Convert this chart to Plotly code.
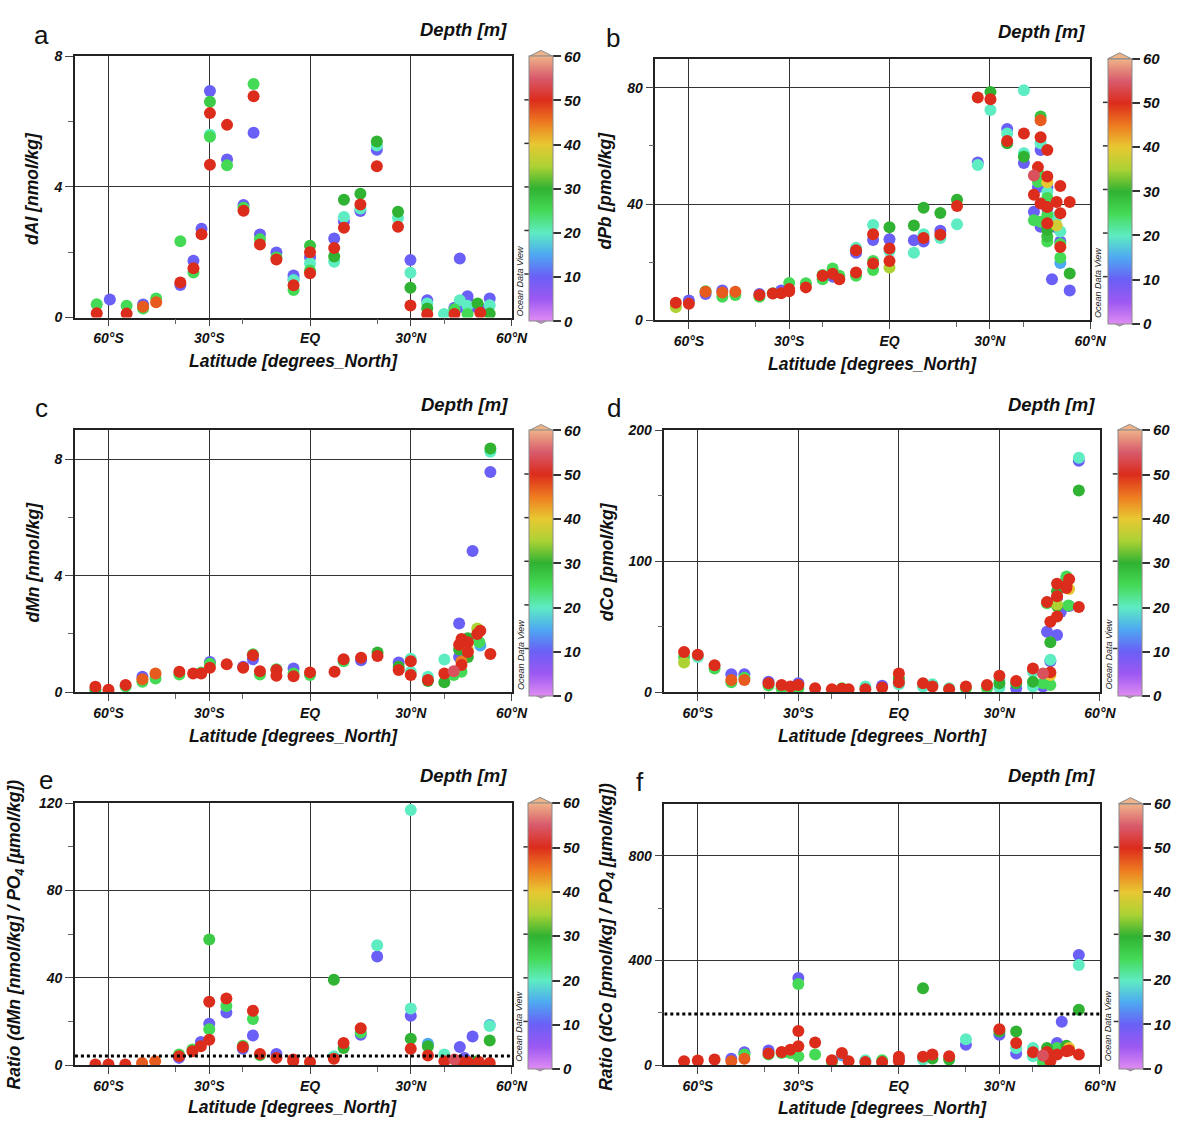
import numpy as np
import plotly.graph_objects as go

W, H = 1182, 1127

# ---------------- data ----------------
# Panel a: dAl [nmol/kg]
a_lat = [-63.5,-63.5,-59.6,-54.6,-54.6,-49.7,-49.7,-49.7,-45.8,-45.8,-38.6,-38.6,-38.6,-34.7,-34.7,-34.7,-32.3,-32.3,
         -29.8,-29.8,-29.8,-29.8,-29.8,-29.8,-24.7,-24.7,-24.7,-19.8,-19.8,-19.8,-16.8,-16.8,-16.8,-14.9,-14.9,-14.9,
         -10,-10,-10,-4.9,-4.9,-4.9,-4.9,-4.9,0,0,0,0,0,0,7.2,7.2,7.2,7.2,10.1,10.1,10.1,10.1,15,15,15,15,
         19.9,19.9,19.9,19.9,26.2,26.2,26.2,29.9,29.9,29.9,29.9,34.9,34.9,34.9,34.9,39.9,43,43,43,44.6,44.6,44.9,
         46.9,46.9,46.9,46.9,48.3,49.9,50.7,50.7,53.5,53.5,53.5]
a_val = [0.41,0.13,0.55,0.36,0.12,0.40,0.28,0.33,0.58,0.47,2.34,1.0,1.07,1.74,1.38,1.51,2.72,2.55,
         6.94,6.61,5.60,5.54,6.26,4.68,4.84,4.66,5.9,3.45,3.36,3.27,7.15,5.66,6.78,2.54,2.40,2.24,
         1.99,1.84,1.78,1.29,1.18,1.14,0.84,0.99,2.2,1.85,1.66,1.44,2.0,1.36,2.42,1.87,1.71,2.13,3.61,3.08,2.94,2.75,3.79,3.34,3.26,3.46,
         5.14,5.27,5.39,4.63,3.24,3.05,2.78,1.76,1.37,0.91,0.37,0.53,0.43,0.28,0.10,0.11,0.30,0.25,0.11,1.81,0.53,0.33,
         0.65,0.53,0.36,0.11,0.33,0.43,0.28,0.15,0.58,0.38,0.12]
a_depth = [25,50,10,25,50,10,25,47,25,47,25,10,50,10,25,50,10,50,
           10,27,20,25,50,50,10,25,50,10,25,50,25,10,50,10,25,50,
           10,25,50,10,12,20,25,50,28,10,20,25,50,50,10,30,20,50,30,20,10,50,30,20,10,50,
           10,20,30,50,30,20,50,10,20,30,50,10,20,30,50,20,10,25,50,10,20,10,
           10,10,20,25,10,30,10,50,10,20,30]

# Panel b: dPb [pmol/kg]
b_lat = [-63.9,-63.9,-60,-60,-55,-55,-55,-50,-50,-50,-46.1,-46.1,-38.9,-38.9,-38.9,-34.9,-34.9,-32.4,-32.4,
         -30,-30,-30,-25,-25,-20,-20,-20,-17,-17,-17,-15,-15,-10,-10,-10,-10,-10,
         -4.9,-4.9,-4.9,-4.9,-4.9,-4.9,0,0,0,0,0,0,7.3,7.3,7.3,10.2,10.2,10.2,10.2,15.2,15.2,15.2,15.2,
         20.2,20.2,20.2,26.4,26.4,26.4,30.2,30.2,30.2,35.2,35.2,35.2,35.2,40.2,40.2,40.2,40.2,40.2,
         43.2,43.2,43.2,43.2,44.4,44.4,44.4,44.4,45.2,45.2,45.2,45.2,45.2,45.2,45.2,45.2,
         47.2,47.2,47.2,47.2,47.2,47.2,47.2,47.2,47.2,47.2,47.2,47.2,47.2,47.2,48.6,
         50,50,50,50,51.1,51.1,51.1,51.1,51.1,51.1,51.1,51.1,53.9,53.9,53.9]
b_val = [6.0,4.5,6.8,5.7,10,9,9.8,10.2,8.1,9.5,9.8,8.7,9.0,8.1,8.7,9.3,9.2,10.2,9.3,
         12.8,10.7,10.0,12.7,11.3,15.6,14.1,15.3,17.8,15,16,15.3,14.1,24.9,24.1,23.2,16.4,15.3,
         32.8,29.6,27.6,20.4,19.5,17.3,32,27.9,24.7,23.8,20.4,18.1,32.6,27.5,23.2,38.7,29.6,28.3,27.1,36.9,30.8,29.4,28.3,
         41.5,39.3,33,76.7,54.3,53.4,78.6,76.1,72.4,65.8,64.3,61.7,60.9,79.2,64.3,57.5,56.3,54.1,
         49.8,43.2,37.3,34.4,52.7,50.9,47.7,45.8,70.1,68.8,63,60.9,58.6,40.2,33.9,32.2,
         58.6,49.5,47.5,45.8,44.1,42.1,41.3,39,38.5,36.2,33.4,31.1,28.8,27.1,14.1,
         40.7,35.6,32.6,31.9,46.2,36.8,30.5,27.1,26.2,25.2,21.5,19.7,40.7,16.1,10.2]
b_depth = [50,35,10,50,25,10,47,10,25,47,47,25,10,25,50,25,50,10,50,
           25,50,50,25,50,25,25,50,25,10,50,25,50,20,50,10,50,25,
           20,50,10,25,50,25,30,10,50,20,50,35,30,10,20,30,20,50,10,30,10,50,20,
           30,50,20,50,10,20,30,50,20,10,20,50,30,20,50,20,30,10,
           54,50,10,25,50,25,25,10,28,47,50,20,10,50,25,10,
           50,50,40,10,20,25,10,50,10,25,50,30,28,25,10,
           50,20,38,10,50,50,20,10,25,50,25,15,50,30,10]

# Panel c: dMn [nmol/kg]
c_lat = [-63.9,-63.9,-60,-54.9,-54.9,-49.9,-49.9,-49.9,-46,-46,-38.9,-38.9,-34.8,-32.4,-32.4,-29.8,-29.8,-29.8,
         -24.8,-19.9,-19.9,-17,-17,-17,-14.9,-14.9,-10,-10,-10,-4.9,-4.9,-4.9,0,0,7.3,10,10,15.2,15.2,
         20.1,20.1,26.4,26.4,26.4,30,30,30,30,35.1,35.1,35.1,40,40,40,42.8,42.8,44.4,44.4,44.4,44.4,
         45.1,45.1,45.1,45.1,47,47,47,47,47,48.4,49.8,49.8,50.7,50.4,50.7,53.7,53.7,53.7,53.7]
c_val = [0.19,0.08,0.08,0.25,0.19,0.53,0.44,0.36,0.64,0.47,0.70,0.61,0.64,0.64,0.68,1.04,0.98,0.84,
         0.96,0.87,0.84,1.30,1.27,1.13,0.72,0.61,0.79,0.76,0.56,0.81,0.64,0.55,0.68,0.59,0.70,1.06,1.13,1.18,1.10,
         1.36,1.24,1.02,0.87,0.76,1.15,1.06,0.70,0.59,0.53,0.42,0.38,1.12,0.64,0.34,0.72,0.59,2.36,1.63,1.47,1.21,
         1.83,0.93,0.70,1.05,1.85,1.72,1.47,1.38,1.21,4.85,2.19,2.00,2.11,1.72,1.60,8.38,8.27,7.57,1.31]
c_depth = [50,30,50,50,25,10,47,25,47,25,50,25,50,50,25,10,25,50,
           50,10,50,25,50,10,50,25,25,50,50,10,25,50,50,25,50,25,50,50,10,
           30,50,10,30,50,20,50,20,50,20,50,30,20,50,30,54,25,10,50,30,10,
           50,50,25,45,30,50,38,50,30,10,35,50,50,25,15,30,20,10,50]

# Panel d: dCo [pmol/kg]
d_lat = [-64.1,-64.1,-64.1,-60,-60,-55,-55,-50,-50,-50,-46.1,-46.1,-46.1,-38.9,-38.9,-38.9,-35,-35,-32.4,
         -30,-30,-30,-25,-20,-17,-17,-15,-10,-10,-5,-5,0,0,0,0,7.2,7.2,10,10,15,15,20,20,26.3,26.3,
         30,30,30,30,35,35,35,40,40,40,40,43,43,43,44.2,44.2,44.2,45.2,45.2,45.2,45.2,45.2,45.2,45.2,
         47.2,47.2,47.2,47.2,47.2,47.2,47.2,47.2,48.3,50,50,50,50,50.8,50.8,50.8,50.6,53.7,53.7,53.7,53.7]
d_val = [30.6,26.9,22.6,28.6,26.9,20.6,18.1,13.6,9.3,7.5,13.6,9.3,11,8,6.8,5,5.5,3,4.3,
         6.8,5.5,3,3,2.3,3,2.6,2.3,4.3,2.3,4.8,3.5,14.3,10.5,7.5,6,6.8,4.3,6,4.3,3,2.3,4.3,3,5.5,3,
         12.5,9.3,6.8,3.5,8.5,6.8,3,18.1,15.6,8,4.3,14.3,6.8,4.3,68.8,67.8,46.2,53.7,38.1,24.8,23.6,15.1,13,5.5,
         82.8,77,73.3,72,67,65.7,57.7,43.7,61.2,88.3,87,81.3,79.5,86.3,78.8,65.7,66.2,179,176.6,154,65]
d_depth = [50,25,35,50,20,50,25,10,47,25,10,47,25,10,50,25,50,25,50,
           10,50,25,50,50,25,50,50,20,50,10,50,50,30,50,20,50,20,20,50,20,50,50,25,50,25,
           50,20,30,20,50,30,10,50,20,30,20,54,25,10,50,25,10,50,30,20,10,50,40,25,
           50,30,50,10,35,30,50,10,10,25,20,50,50,50,40,10,25,20,10,30,50]

# Panel e: Ratio dMn / PO4
e_lat = [-63.9,-60,-55,-50,-46.1,-39,-39,-39,-35,-35,-32.5,-32.5,-30,-30,-30,-30,-30,-24.9,-24.9,-24.9,
         -20,-20,-20,-17,-17,-17,-14.9,-14.9,-10,-10,-5,-5,0,7.1,7.1,7.1,10,10,15.1,15.1,15.1,20,20,
         30,30,30,30,30,35.1,35.1,35.1,40,40,43,44.6,44.6,46,47,48.4,49.8,50.3,53.5,53.5,53.5,53.5]
e_val = [0.3,0.3,0.3,1,1.8,4.8,4.1,3.3,7.1,6.3,10.6,8.6,57.6,29,18.9,16.4,11.6,30.5,27.1,24.1,
         8.9,8.3,7.5,24.9,21.1,13.6,5.1,4.5,5.1,3.3,2.6,1.8,1.4,39.1,4.1,2.9,10.1,7.8,16.9,14.9,13.9,54.9,49.8,
         116.9,25.9,22.6,12.1,7.5,9.8,8.6,4.4,4.8,1.8,2.6,8.3,1.8,3.3,1.4,13.1,1.8,1.4,18.4,17.9,11.3,1.0]
e_depth = [50,50,50,47,47,25,50,10,25,50,10,50,27,50,10,25,50,50,25,10,
           25,50,10,50,25,10,50,25,10,50,50,50,50,30,20,50,50,30,50,25,10,20,10,
           20,20,10,30,50,15,30,50,20,50,54,10,50,10,50,10,30,50,15,20,30,50]

# Panel f: Ratio dCo / PO4
f_lat = [-64.1,-60,-55,-50,-50,-46.1,-46.1,-46.1,-38.9,-38.9,-38.9,-35,-35,-32.4,-32.4,-30,-30,-30,-30,-30,
         -25,-25,-20,-20,-17,-17,-15,-10,-10,-5,-5,0,0,0,7.2,7.2,7.2,10,10,15,15,20,20,30,30,30,
         35,35,35,35,40,40,40,43,43,43,44.2,44.2,44.2,45.2,45.2,47.2,47.2,47.2,47.2,48.6,50,50,50,50.8,50.8,
         53.7,53.7,53.7,53.7]
f_val = [15,17.6,21.4,23.9,15,49,40.2,23.9,55.3,44,40.2,46.5,50.2,59,46.5,332.8,310,130.6,71.6,33.9,
         86.7,40.2,18.8,11.3,46.5,37.7,15,18.8,11.3,18.8,11.3,31.4,22,15,294,31.4,21.4,40.2,25.1,33.9,21.4,99.2,77.9,136.9,128.1,115.5,
         128.1,84.2,65.3,44,65.3,49,33.9,36.4,21.4,11.3,65.3,50.2,33.9,27.6,15,84.2,65.3,49,40.2,165.8,74.1,67.8,52.8,65.3,55.3,
         420.8,383,212,40.2]
f_depth = [50,50,50,10,47,10,25,47,10,50,25,25,50,50,25,10,25,50,50,25,
           50,25,50,25,50,15,50,20,50,25,50,50,10,50,30,50,20,50,30,50,30,20,10,50,30,10,
           30,50,20,10,20,50,20,54,20,25,30,50,10,10,50,10,25,20,50,10,30,20,50,40,50,
           10,20,30,50]

# reference ratio lines (dotted)
e_ref = 4.2
f_ref = 195

lat_tickvals = [-60, -30, 0, 30, 60]
lat_ticktext = ['60°S', '30°S', 'EQ', '30°N', '60°N']
lat_minor = [-40, -20, 20, 40]
depth_ticks = [0, 10, 20, 30, 40, 50, 60]

# ---------------- style ----------------
FONT = 'Liberation Sans'
BI = dict(family=FONT, color='#111111', weight='bold', style='italic')

odv_scale = [
    [0.0, '#e08cf2'], [0.0833, '#9c58f2'], [0.1667, '#6a5ff6'], [0.25, '#4ea8f2'],
    [0.3333, '#5eecc2'], [0.4167, '#44da55'], [0.5, '#30b232'], [0.5833, '#acd234'],
    [0.6667, '#e8c832'], [0.75, '#ee7a20'], [0.8333, '#dc2c1c'], [0.9167, '#d85a6c'],
    [1.0, '#efb389'],
]

panels = [
    dict(letter='a', lat=a_lat, val=a_val, dep=a_depth, ytitle='dAl [nmol/kg]',
         yr=[0, 8], ymaj=[0, 4, 8], ymin=[2, 6], box=(76, 519, 49, 314),
         cbx=537, letpos=(42, 27), ytpos=(33, 183), xtpos=(298, 358), dpos=(470, 22), odv=(528, 277)),
    dict(letter='b', lat=b_lat, val=b_val, dep=b_depth, ytitle='dPb [pmol/kg]',
         yr=[0, 90], ymaj=[0, 40, 80], ymin=[20, 60], box=(665, 1106, 51.5, 316.7),
         cbx=1124, letpos=(622, 30), ytpos=(614, 185), xtpos=(885, 361), dpos=(1057, 24), odv=(1114, 279)),
    dict(letter='c', lat=c_lat, val=c_val, dep=c_depth, ytitle='dMn [nmol/kg]',
         yr=[0, 9], ymaj=[0, 4, 8], ymin=[2, 6], box=(76, 519, 428.5, 694),
         cbx=537, letpos=(42, 406), ytpos=(33, 562), xtpos=(298, 738), dpos=(471, 402), odv=(528, 656)),
    dict(letter='d', lat=d_lat, val=d_val, dep=d_depth, ytitle='dCo [pmol/kg]',
         yr=[0, 200], ymaj=[0, 100, 200], ymin=[50, 150], box=(674, 1116, 428.3, 694),
         cbx=1134, letpos=(623, 406), ytpos=(616, 562), xtpos=(895, 738), dpos=(1067, 402), odv=(1125, 656)),
    dict(letter='e', lat=e_lat, val=e_val, dep=e_depth,
         ytitle='Ratio (dMn [nmol/kg] / PO<sub>4</sub> [µmol/kg])',
         yr=[0, 120], ymaj=[0, 40, 80, 120], ymin=[20, 60, 100], box=(76, 519, 806.7, 1072.3),
         cbx=536, letpos=(47, 783), ytpos=(16, 940), xtpos=(297, 1115), dpos=(470, 779), odv=(527, 1033),
         ref=e_ref),
    dict(letter='f', lat=f_lat, val=f_val, dep=f_depth,
         ytitle='Ratio (dCo [pmol/kg] / PO<sub>4</sub> [µmol/kg])',
         yr=[0, 1000], ymaj=[0, 400, 800], ymin=[200, 600], box=(674, 1116, 807, 1072.3),
         cbx=1135, letpos=(649, 785), ytpos=(616, 942), xtpos=(895, 1116), dpos=(1067, 779), odv=(1125, 1033),
         ref=f_ref),
]

def px(xp):
    return xp / W

def py(yp):
    return 1 - yp / H

fig = go.Figure()
layout = dict(width=W, height=H, margin=dict(l=0, r=0, t=0, b=0, pad=0),
              paper_bgcolor='white', plot_bgcolor='white', showlegend=False)
annotations = []
shapes = []
CB_T = 24

for i, p in enumerate(panels, start=1):
    sfx = '' if i == 1 else str(i)
    L, R, T, B = p['box']
    lat = np.array(p['lat'], float)
    val = np.array(p['val'], float)
    dep = np.array(p['dep'], float)
    order = np.argsort(dep, kind='stable')
    fig.add_trace(go.Scatter(
        x=lat[order], y=val[order], mode='markers',
        marker=dict(size=12, color=dep[order], coloraxis='coloraxis' + sfx, line=dict(width=0), opacity=1),
        xaxis='x' + sfx, yaxis='y' + sfx, hoverinfo='x+y'))

    layout['xaxis' + sfx] = dict(
        domain=[px(L), px(R)], anchor='y' + sfx, range=[-70, 60],
        tickmode='array', tickvals=lat_tickvals, ticktext=lat_ticktext,
        showgrid=True, gridcolor='#333333', gridwidth=1, zeroline=False,
        showline=True, mirror=True, linecolor='#222222', linewidth=1.5,
        ticks='outside', ticklen=7, tickwidth=1.2, tickcolor='#444444',
        minor=dict(tickvals=lat_minor, ticks='outside', ticklen=5, tickcolor='#666666', showgrid=False),
        tickfont=dict(size=14, **BI), fixedrange=True)
    layout['yaxis' + sfx] = dict(
        domain=[py(B), py(T)], anchor='x' + sfx, range=p['yr'],
        tickmode='array', tickvals=p['ymaj'],
        showgrid=True, gridcolor='#333333', gridwidth=1, zeroline=False,
        showline=True, mirror=True, linecolor='#222222', linewidth=1.5,
        ticks='outside', ticklen=8, tickwidth=1.2, tickcolor='#444444',
        minor=dict(tickvals=p['ymin'], ticks='outside', ticklen=5, tickcolor='#666666', showgrid=False),
        tickfont=dict(size=14, **BI), fixedrange=True)

    cb_len = B - T
    layout['coloraxis' + sfx] = dict(
        cmin=0, cmax=60, colorscale=odv_scale,
        colorbar=dict(x=px(p['cbx']), xanchor='left', y=py(T), yanchor='top',
                      len=cb_len, lenmode='pixels', thickness=CB_T, thicknessmode='pixels',
                      xpad=0, ypad=0, outlinewidth=1, outlinecolor='#8a8a8a', borderwidth=0,
                      tickmode='array', tickvals=depth_ticks, ticks='outside', ticklen=8,
                      tickwidth=1.5, tickcolor='#333333', tickfont=dict(size=15, **BI)))

    # colorbar extension arrows (ODV style)
    cl, cr = px(p['cbx']), px(p['cbx'] + CB_T)
    cm = px(p['cbx'] + CB_T / 2)
    shapes.append(dict(type='path', xref='paper', yref='paper',
                       path=f'M {cl} {py(T)} L {cm} {py(T - 6)} L {cr} {py(T)} Z',
                       fillcolor=odv_scale[-1][1], line=dict(color='#8a8a8a', width=1)))
    shapes.append(dict(type='path', xref='paper', yref='paper',
                       path=f'M {cl} {py(B)} L {cm} {py(B + 6)} L {cr} {py(B)} Z',
                       fillcolor=odv_scale[0][1], line=dict(color='#8a8a8a', width=1)))
    # left-side colorbar tick dashes
    for v in depth_ticks[1:-1]:
        yy = py(B - v / 60 * cb_len)
        shapes.append(dict(type='line', xref='paper', yref='paper',
                           x0=px(p['cbx'] - 5), x1=px(p['cbx']), y0=yy, y1=yy,
                           line=dict(color='#333333', width=1.5)))

    # dotted reference line
    if 'ref' in p:
        shapes.append(dict(type='line', xref='x' + sfx, yref='y' + sfx,
                           x0=-70, x1=60, y0=p['ref'], y1=p['ref'],
                           line=dict(color='black', width=3, dash='dot')))

    # texts
    annotations.append(dict(text=p['letter'], x=px(p['letpos'][0]), y=py(p['letpos'][1]),
                            xref='paper', yref='paper', showarrow=False, xanchor='center', yanchor='middle',
                            font=dict(family=FONT, size=26, color='#111111')))
    annotations.append(dict(text=p['ytitle'], x=px(p['ytpos'][0]), y=py(p['ytpos'][1]),
                            xref='paper', yref='paper', showarrow=False, textangle=-90,
                            xanchor='center', yanchor='middle', font=dict(size=17.5, **BI)))
    annotations.append(dict(text='Latitude [degrees_North]', x=px(p['xtpos'][0]), y=py(p['xtpos'][1]),
                            xref='paper', yref='paper', showarrow=False,
                            xanchor='center', yanchor='middle', font=dict(size=17.5, **BI)))
    annotations.append(dict(text='Depth [m]', x=px(p['dpos'][0]), y=py(p['dpos'][1]),
                            xref='paper', yref='paper', showarrow=False,
                            xanchor='center', yanchor='middle', font=dict(size=18.5, **BI)))
    annotations.append(dict(text='Ocean Data View', x=px(p['odv'][0]), y=py(p['odv'][1]),
                            xref='paper', yref='paper', showarrow=False, textangle=-90,
                            xanchor='center', yanchor='middle',
                            font=dict(family=FONT, size=9, color='#222222', style='italic')))

layout['annotations'] = annotations
layout['shapes'] = shapes
fig.update_layout(**layout)

fig.write_html('out.html', include_plotlyjs=True,
               config={'displayModeBar': False, 'staticPlot': False},
               post_script="document.body.style.margin='0';document.body.style.overflow='hidden';")
